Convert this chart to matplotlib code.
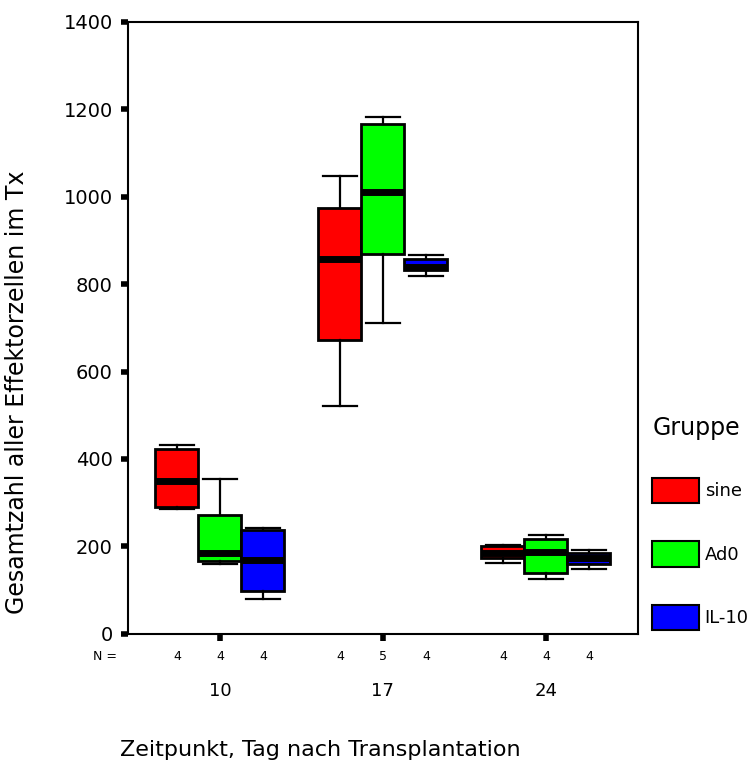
import matplotlib.pyplot as plt
from matplotlib.patches import Patch
from matplotlib.transforms import blended_transform_factory

# Tage nach Transplantation und Gruppen
tage = ["10", "17", "24"]
gruppen = ["sine", "Ad0", "IL-10"]
farben = ["#ff0000", "#00ff00", "#0000ff"]

# Kennwerte je Box: Whisker unten, Q1, Median, Q3, Whisker oben
# Reihenfolge: Tag 10 (sine, Ad0, IL-10), Tag 17 (...), Tag 24 (...)
whisk_lo = [286, 160, 80, 522, 711, 818, 163, 125, 149]
q1 = [291, 167, 97, 673, 869, 833, 174, 140, 159]
median = [350, 185, 169, 857, 1010, 840, 185, 188, 174]
q3 = [422, 272, 238, 975, 1165, 857, 200, 217, 186]
whisk_hi = [432, 355, 243, 1046, 1183, 867, 204, 226, 192]
n_werte = [4, 4, 4, 4, 5, 4, 4, 4, 4]

fig = plt.figure(figsize=(7.53, 7.74), dpi=100)
ax = fig.add_axes([0.170, 0.181, 0.677, 0.791])

breite = 0.264
stats, pos, cols = [], [], []
for i in range(len(tage)):
    for j in range(len(gruppen)):
        k = i * len(gruppen) + j
        stats.append(dict(whislo=whisk_lo[k], q1=q1[k], med=median[k],
                          q3=q3[k], whishi=whisk_hi[k], fliers=[]))
        pos.append(i + 1 + (j - 1) * breite)
        cols.append(farben[j])

bp = ax.bxp(stats, positions=pos, widths=breite, patch_artist=True,
            showfliers=False,
            boxprops=dict(edgecolor="black", linewidth=2),
            medianprops=dict(color="black", linewidth=5, solid_capstyle="butt"),
            whiskerprops=dict(color="black", linewidth=1.6),
            capprops=dict(color="black", linewidth=1.6))
for box, c in zip(bp["boxes"], cols):
    box.set_facecolor(c)
for cap in bp["caps"]:
    x = cap.get_xdata()
    m = (x[0] + x[1]) / 2
    cap.set_xdata([m - breite * 0.4, m + breite * 0.4])

ax.set_xlim(0.436, 3.564)
ax.set_ylim(0, 1400)
ax.set_yticks(range(0, 1401, 200))
ax.set_xticks([1, 2, 3])
ax.set_xticklabels([])
ax.tick_params(axis="both", direction="out", length=5, width=4, color="black")
ax.tick_params(axis="y", labelsize=14, pad=6)
for sp in ax.spines.values():
    sp.set_linewidth(1.5)

trans = blended_transform_factory(ax.transData, ax.transAxes)
ax.text(-0.045, -0.037, "N =", transform=ax.transAxes, ha="center", va="center", fontsize=9)
for p, n in zip(pos, n_werte):
    ax.text(p, -0.037, str(n), transform=trans, ha="center", va="center", fontsize=9)
for i, t in enumerate(tage):
    ax.text(i + 1, -0.093, t, transform=trans, ha="center", va="center", fontsize=13)

ax.set_ylabel("Gesamtzahl aller Effektorzellen im Tx", fontsize=17)
ax.yaxis.set_label_coords(-0.195, 0.395)
fig.text(0.425, 0.031, "Zeitpunkt, Tag nach Transplantation", ha="center", va="center", fontsize=16)

handles = [Patch(facecolor=c, edgecolor="black", linewidth=1.5) for c in farben]
leg = ax.legend(handles, gruppen, title="Gruppe", loc="upper left",
                bbox_to_anchor=(1.0, 0.38), frameon=False, fontsize=13,
                title_fontsize=17, handlelength=2.6, handleheight=1.8,
                labelspacing=2.1, handletextpad=0.3, borderaxespad=0.4)
leg._legend_box.align = "left"

fig.savefig("out.png", dpi=100)
